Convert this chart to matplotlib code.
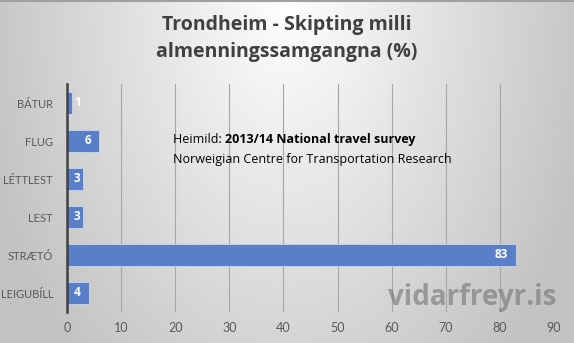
import matplotlib
matplotlib.use("Agg")
import matplotlib.pyplot as plt
import numpy as np

# data (top to bottom as in the chart)
categories = ["BÁTUR", "FLUG", "LÉTTLEST", "LEST", "STRÆTÓ", "LEIGUBÍLL"]
values = [1, 6, 3, 3, 83, 4]
xticks = [0, 10, 20, 30, 40, 50, 60, 70, 80, 90]

plt.rcParams['font.family'] = ['Open Sans', 'DejaVu Sans']

W, H = 574, 343
fig = plt.figure(figsize=(W / 100, H / 100), dpi=100)

# gradient background
bg = fig.add_axes([0, 0, 1, 1], zorder=-10)
xx, yy = np.meshgrid(np.linspace(0, 1, W), np.linspace(0, 1, H))
r = np.sqrt(((xx - 0.5) / 0.5) ** 2 + (yy / 1.3) ** 2)
gray = (255 - 55 * np.clip(r, 0, 1.1)) / 255
bg.imshow(np.dstack([gray, gray, gray]), aspect='auto', extent=[0, 1, 1, 0])
bg.plot([0, 1], [0.002, 0.002], color='#a0a0a0', lw=1.5)
bg.set_xlim(0, 1); bg.set_ylim(1, 0)
bg.axis('off')

ax = fig.add_axes([67 / W, 31 / H, (554 - 67) / W, (313 - 85) / H])
ax.patch.set_alpha(0)
y = np.arange(len(categories))
ax.barh(y, values, height=0.58, color='#5a7fc9', edgecolor='#c9d6ee', linewidth=0.6, zorder=3)
ax.set_ylim(len(categories) - 0.5, -0.5)
ax.set_xlim(0, 90)
ax.set_xticks(xticks)
ax.set_yticks(y)
ax.set_yticklabels(categories, family='Lato', fontsize=8)
ax.set_xticklabels([str(t) for t in xticks], family='Lato', fontsize=9)
ax.tick_params(axis='both', length=0, colors='#595959')
ax.tick_params(axis='y', pad=10)
ax.tick_params(axis='x', pad=7)
for x in xticks[1:]:
    ax.axvline(x, color='#a6a6a6', lw=0.8, zorder=1)
for s in ['top', 'right', 'bottom']:
    ax.spines[s].set_visible(False)
ax.spines['left'].set_color('#404040')
ax.spines['left'].set_linewidth(1.8)
ax.spines['left'].set_zorder(4)

# data labels
for i, v in enumerate(values):
    if v < 5:
        ax.annotate(str(v), (0, i), xytext=(5, 0), textcoords='offset points',
                    ha='left', va='center', color='white', fontweight='bold', fontsize=8.5, zorder=5)
    else:
        ax.annotate(str(v), (v, i), xytext=(-6, 0), textcoords='offset points',
                    ha='right', va='center', color='white', fontweight='bold', fontsize=8.5, zorder=5)

# title
fig.text(0.5, 1 - 25 / H, "Trondheim - Skipting milli", ha='center', va='center',
         fontsize=14, fontweight='bold', color='#404040')
fig.text(0.5, 1 - 52 / H, "almenningssamgangna (%)", ha='center', va='center',
         fontsize=14, fontweight='bold', color='#404040')

# source note
t1 = fig.text(173 / W, 1 - 143 / H, "Heimild: ", ha='left', va='baseline', fontsize=9, color='black')
fig.canvas.draw()
bb = t1.get_window_extent()
fig.text(bb.x1 / W, 1 - 143 / H, "2013/14 National travel survey", ha='left', va='baseline',
         fontsize=9, fontweight='bold', color='black')
fig.text(173 / W, 1 - 163 / H, "Norweigian Centre for Transportation Research", ha='left',
         va='baseline', fontsize=9, color='black')

# watermark
fig.text(472 / W, 1 - 298 / H, "vidarfreyr.is", ha='center', va='center', fontsize=20,
         fontweight='bold', color='#7a7a7a', alpha=0.65, zorder=10)

fig.savefig("out.png", dpi=100)
